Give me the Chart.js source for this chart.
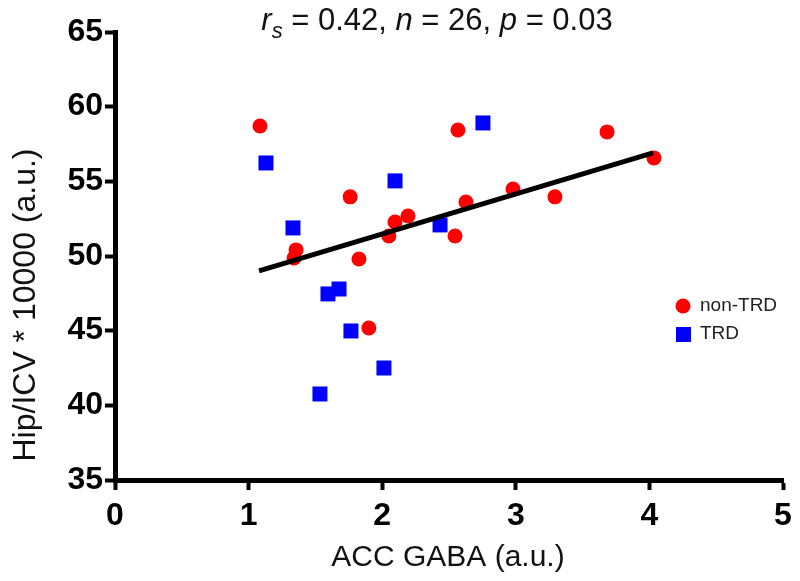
<!DOCTYPE html>
<html>
<head>
<meta charset="utf-8">
<script src="https://cdn.jsdelivr.net/npm/chart.js@4"></script>
<style>
  html, body { margin: 0; padding: 0; background: #fff; }
  #wrap { width: 800px; height: 581px; }
</style>
</head>
<body>
<div id="wrap"><canvas id="chart" width="800" height="581"></canvas></div>
<script>
// non-TRD (red circles)
const nonTrdX = [1.085, 1.76, 1.355, 1.34, 1.826, 2.05, 2.096, 2.193, 2.545, 2.627, 2.567, 2.979, 3.293, 3.683, 4.034, 1.90];
const nonTrdY = [58.71, 53.96, 50.41, 49.87, 49.80, 51.34, 52.28, 52.68, 51.34, 53.62, 58.44, 54.49, 53.96, 58.31, 56.57, 45.18];
// TRD (blue squares)
const trdX = [1.13, 2.096, 1.332, 2.433, 2.754, 1.594, 1.677, 1.766, 2.013, 1.534];
const trdY = [56.23, 55.03, 51.88, 52.08, 58.91, 47.46, 47.79, 44.98, 42.50, 40.76];
// regression line end points
const fitX = [1.078, 4.027];
const fitY = [49.0, 56.9];

const xTicks = [0, 1, 2, 3, 4, 5];
const yTicks = [35, 40, 45, 50, 55, 60, 65];

const toPts = (xs, ys) => xs.map((x, i) => ({ x: x, y: ys[i] }));

const SANS = '"Liberation Sans", Arial, Helvetica, sans-serif';

// title, axis titles and legend drawn on the canvas
const decor = {
  id: 'decor',
  afterDraw(chart) {
    const ctx = chart.ctx;
    ctx.save();
    ctx.fillStyle = '#111';

    // title with italic letters
    const parts = [
      { t: 'r', it: true }, { t: 's', it: true, sub: true }, { t: ' = 0.42, ' },
      { t: 'n', it: true }, { t: ' = 26, ' }, { t: 'p', it: true }, { t: ' = 0.03' }
    ];
    const fontFor = p => (p.it ? 'italic ' : '') + (p.sub ? '22px ' : '31px ') + SANS;
    let total = 0;
    parts.forEach(p => { ctx.font = fontFor(p); total += ctx.measureText(p.t).width; });
    let x = 437 - total / 2;
    ctx.textBaseline = 'alphabetic';
    ctx.textAlign = 'left';
    parts.forEach(p => {
      ctx.font = fontFor(p);
      ctx.fillText(p.t, x, p.sub ? 38 : 30);
      x += ctx.measureText(p.t).width;
    });

    // x axis title
    ctx.font = '30px ' + SANS;
    ctx.textAlign = 'center';
    ctx.fillText('ACC GABA (a.u.)', 448, 566);

    // y axis title
    ctx.translate(35, 305);
    ctx.rotate(-Math.PI / 2);
    ctx.font = '32px ' + SANS;
    ctx.fillText('Hip/ICV * 10000 (a.u.)', 0, 0);
    ctx.restore();

    // legend
    ctx.save();
    ctx.fillStyle = '#ff0000';
    ctx.beginPath();
    ctx.arc(683, 306, 7.5, 0, Math.PI * 2);
    ctx.fill();
    ctx.fillStyle = '#0000ff';
    ctx.fillRect(676, 327, 15, 15);
    ctx.fillStyle = '#222';
    ctx.font = '19px ' + SANS;
    ctx.textAlign = 'left';
    ctx.textBaseline = 'middle';
    ctx.fillText('non-TRD', 700, 306);
    ctx.fillText('TRD', 700, 334);
    ctx.restore();
  }
};

new Chart(document.getElementById('chart'), {
  type: 'scatter',
  data: {
    datasets: [
      {
        type: 'line',
        label: 'fit',
        data: toPts(fitX, fitY),
        borderColor: '#000',
        borderWidth: 5,
        pointRadius: 0,
        fill: false,
        order: 0
      },
      {
        label: 'non-TRD',
        data: toPts(nonTrdX, nonTrdY),
        pointStyle: 'circle',
        pointRadius: 7.5,
        backgroundColor: '#ff0000',
        borderWidth: 0,
        order: 1
      },
      {
        label: 'TRD',
        data: toPts(trdX, trdY),
        pointStyle: 'rect',
        pointRadius: 10.6,
        backgroundColor: '#0000ff',
        borderWidth: 0,
        order: 2
      }
    ]
  },
  options: {
    responsive: false,
    animation: false,
    layout: { padding: { left: 0, right: 17, top: 32, bottom: 0 } },
    plugins: { legend: { display: false }, tooltip: { enabled: false } },
    scales: {
      x: {
        type: 'linear',
        min: 0, max: 5,
        afterFit: s => { s.height = 101; },
        afterBuildTicks: s => { s.ticks = xTicks.map(v => ({ value: v })); },
        border: { display: true, color: '#000', width: 5 },
        grid: { drawOnChartArea: false, drawTicks: true, tickLength: 10, tickWidth: 4, color: '#000' },
        ticks: { color: '#000', padding: 7, font: { family: SANS, size: 32, weight: 'bold' } }
      },
      y: {
        type: 'linear',
        min: 35, max: 65,
        afterFit: s => { s.width = 115; },
        afterBuildTicks: s => { s.ticks = yTicks.map(v => ({ value: v })); },
        border: { display: true, color: '#000', width: 5 },
        grid: { drawOnChartArea: false, drawTicks: true, tickLength: 10, tickWidth: 4, color: '#000' },
        ticks: { color: '#000', padding: 2, font: { family: SANS, size: 32, weight: 'bold' } }
      }
    }
  },
  plugins: [decor]
});
</script>
</body>
</html>
